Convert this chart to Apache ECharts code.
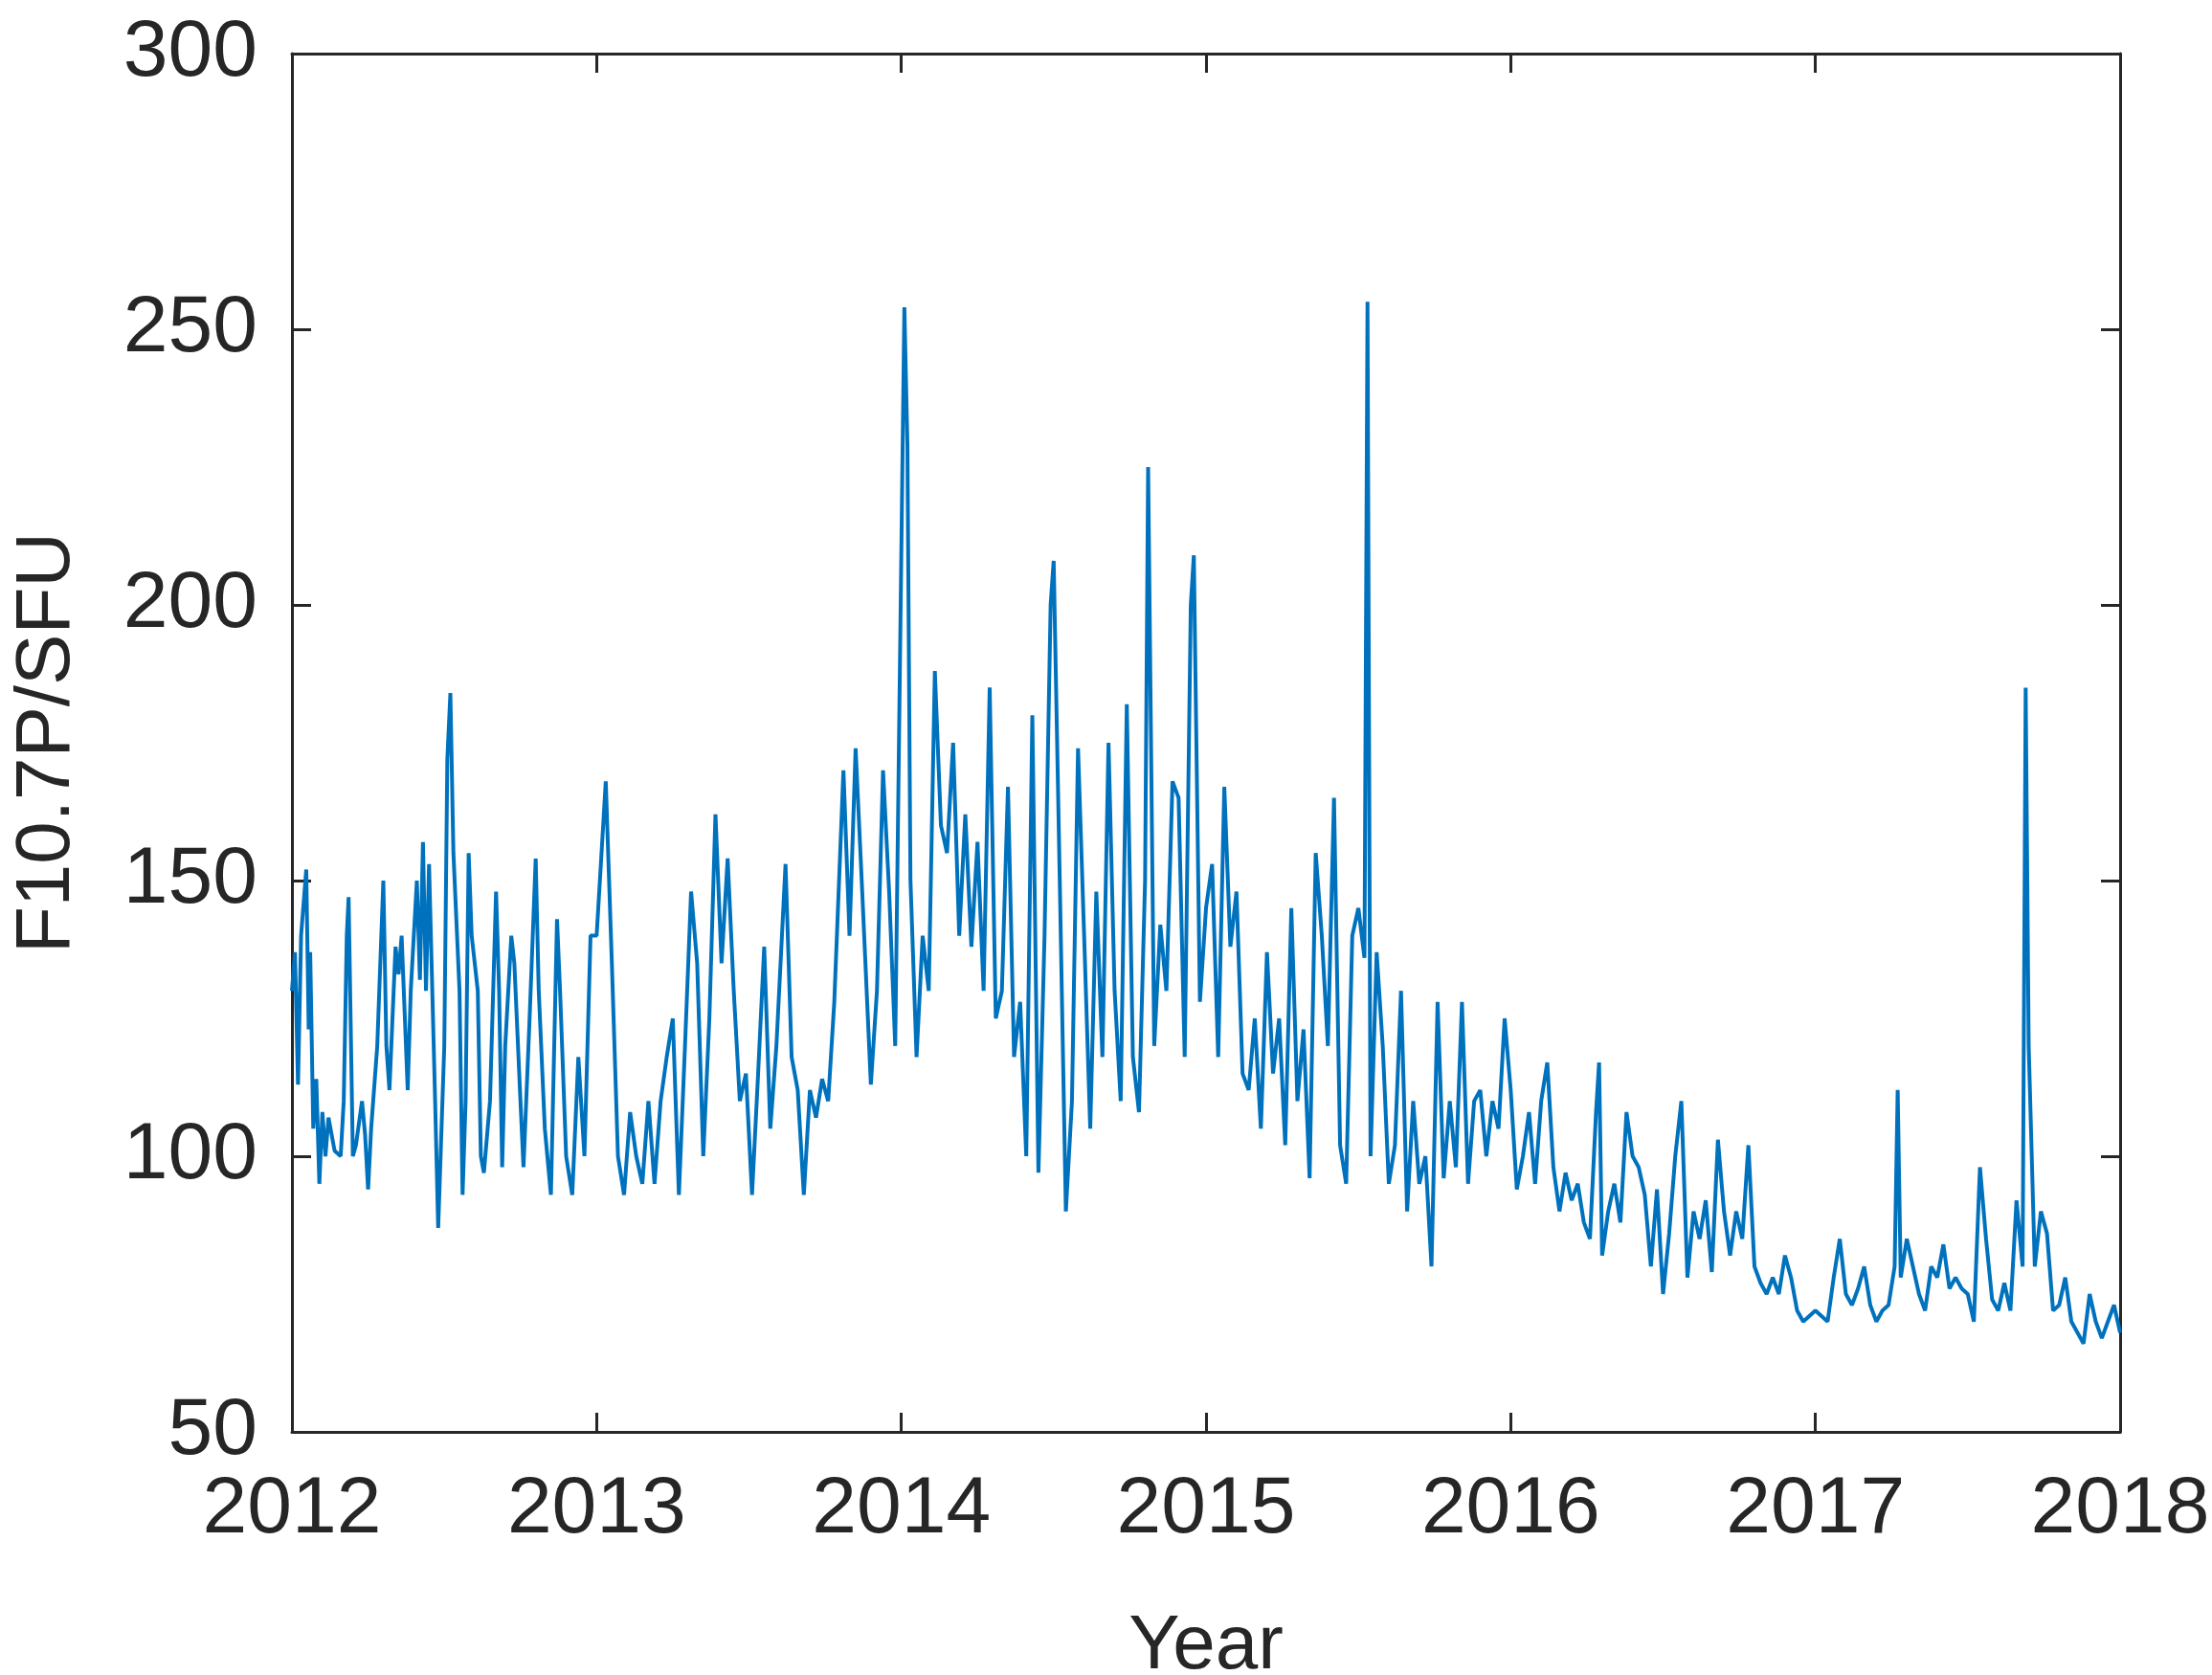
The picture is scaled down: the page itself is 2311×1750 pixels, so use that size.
<!DOCTYPE html>
<html><head><meta charset="utf-8">
<script src="https://cdn.jsdelivr.net/npm/echarts@6/dist/echarts.min.js"></script>
<style>html,body{margin:0;background:#fff}#c{width:2311px;height:1750px}</style>
</head><body><div id="c"></div>
<script>
const years = [
2012.00,2012.01,2012.02,2012.03,2012.047,2012.055,2012.06,2012.07,2012.08,2012.09,2012.10,2012.11,2012.12,2012.14,2012.16,2012.17,2012.18,2012.186,2012.20,2012.21,2012.23,2012.24,2012.25,2012.26,2012.28,2012.30,2012.31,2012.32,2012.34,2012.35,2012.36,2012.38,2012.39,2012.41,2012.42,2012.43,2012.44,2012.45,2012.47,2012.48,2012.50,2012.51,2012.52,2012.53,2012.55,2012.56,2012.57,2012.58,2012.59,2012.61,2012.62,2012.63,2012.65,2012.67,2012.68,2012.69,2012.70,2012.72,2012.73,2012.75,2012.76,2012.78,2012.80,2012.81,2012.83,2012.85,2012.87,2012.88,2012.90,2012.92,2012.94,2012.96,2012.98,
2013.00,2013.03,2013.05,2013.07,2013.09,2013.11,2013.13,2013.15,2013.17,2013.19,2013.21,2013.23,2013.25,2013.27,2013.29,2013.31,2013.33,2013.35,2013.37,2013.39,2013.41,2013.43,2013.45,2013.47,2013.49,2013.51,2013.53,2013.55,2013.57,2013.59,2013.62,2013.64,2013.66,2013.68,2013.70,2013.72,2013.74,2013.76,2013.78,2013.81,2013.83,2013.85,2013.87,2013.90,2013.92,2013.94,2013.96,2013.98,
2014.01,2014.02,2014.03,2014.05,2014.07,2014.09,2014.11,2014.13,2014.15,2014.17,2014.19,2014.21,2014.23,2014.25,2014.27,2014.29,2014.31,2014.33,2014.35,2014.37,2014.39,2014.41,2014.43,2014.45,2014.47,2014.49,2014.50,2014.52,2014.54,2014.56,2014.58,2014.60,2014.62,2014.64,2014.66,2014.68,2014.70,2014.72,2014.74,2014.76,2014.78,2014.80,2014.81,2014.83,2014.85,2014.87,2014.89,2014.91,2014.93,2014.95,2014.96,2014.98,
2015.00,2015.02,2015.04,2015.06,2015.08,2015.10,2015.12,2015.14,2015.16,2015.18,2015.20,2015.22,2015.24,2015.26,2015.28,2015.30,2015.32,2015.34,2015.36,2015.38,2015.40,2015.42,2015.44,2015.46,2015.48,2015.50,2015.52,2015.53,2015.54,2015.56,2015.58,2015.60,2015.62,2015.64,2015.66,2015.68,2015.70,2015.72,2015.74,2015.76,2015.78,2015.80,2015.82,2015.84,2015.86,2015.88,2015.90,2015.92,2015.94,2015.96,2015.98,
2016.00,2016.02,2016.04,2016.06,2016.08,2016.10,2016.12,2016.14,2016.16,2016.18,2016.20,2016.22,2016.24,2016.26,2016.28,2016.29,2016.30,2016.32,2016.34,2016.36,2016.38,2016.40,2016.42,2016.44,2016.46,2016.48,2016.50,2016.52,2016.54,2016.56,2016.58,2016.60,2016.62,2016.64,2016.66,2016.68,2016.70,2016.72,2016.74,2016.76,2016.78,2016.80,2016.82,2016.84,2016.86,2016.88,2016.90,2016.92,2016.94,2016.96,2016.98,
2017.00,2017.02,2017.04,2017.06,2017.08,2017.10,2017.12,2017.14,2017.16,2017.18,2017.20,2017.22,2017.24,2017.26,2017.27,2017.28,2017.30,2017.32,2017.34,2017.36,2017.38,2017.40,2017.42,2017.44,2017.46,2017.48,2017.50,2017.52,2017.54,2017.56,2017.58,2017.60,2017.62,2017.64,2017.66,2017.68,2017.69,2017.70,2017.72,2017.74,2017.76,2017.78,2017.80,2017.82,2017.84,2017.86,2017.88,2017.90,2017.92,2017.94,2017.96,2017.98,2018.00];
const f107 = [
130,137,113,140,152,123,137,105,114,95,108,100,107,101,100,110,140,147,100,102,110,104,94,105,120,150,120,112,138,133,140,112,130,150,132,157,130,153,110,87,120,172,184,155,130,93,110,155,140,130,100,97,110,148,130,98,120,140,135,110,98,125,154,130,105,93,143,130,100,93,118,100,140,
140,168,135,100,93,108,100,95,110,95,110,118,125,93,120,148,135,100,125,162,135,154,130,110,115,93,115,138,105,120,153,118,112,93,112,107,114,110,128,170,140,174,150,113,130,170,148,120,
254,229,150,118,140,130,188,160,155,175,140,162,138,157,130,185,125,130,167,118,128,100,180,97,140,200,208,150,90,110,174,140,105,148,118,175,130,110,182,118,108,150,225,120,142,130,168,165,118,200,209,128,
145,153,118,167,138,148,115,112,125,105,137,115,125,102,145,110,123,96,155,140,120,165,102,95,140,145,136,255,100,137,120,95,102,130,90,110,95,100,80,128,96,110,98,128,95,110,112,100,110,105,125,
112,94,100,108,95,110,117,98,90,97,92,95,88,85,108,117,82,90,95,88,108,100,98,93,80,94,75,86,100,110,78,90,85,92,79,103,90,82,90,85,102,80,77,75,78,75,82,78,72,70,71,
72,71,70,78,85,75,73,76,80,73,70,72,73,80,112,78,85,80,75,72,80,78,84,76,78,76,75,70,98,85,74,72,77,72,92,80,185,120,80,90,86,72,73,78,70,68,66,75,70,67,70,73,68];
const xTicks = [2012,2013,2014,2015,2016,2017,2018];
const yTicks = [50,100,150,200,250,300];
const font = 'Arial, "Liberation Sans", sans-serif';
const c = echarts.init(document.getElementById('c'));
const ax = {color:'#262626', fontSize:84, fontFamily:font};
const line = {show:true, lineStyle:{color:'#262626', width:3}};
const tick = {show:true, inside:true, length:20, lineStyle:{color:'#262626', width:3}};
c.setOption({
  animation:false,
  grid:{left:305, right:96, top:56, bottom:254, containLabel:false, outerBoundsMode:'none'},
  xAxis:[
    {type:'value', min:xTicks[0], max:xTicks[xTicks.length-1], interval:1, axisLine:line, axisTick:tick, splitLine:{show:false},
     axisLabel:{...ax, margin:40, formatter:v=>String(v)}, name:'Year', nameLocation:'middle', nameGap:185,
     nameTextStyle:{color:'#262626', fontSize:80, fontFamily:font}},
    {type:'value', position:'top', min:2012, max:2018, interval:1, axisLine:line, axisTick:tick, axisLabel:{show:false}, splitLine:{show:false}}
  ],
  yAxis:[
    {type:'value', min:yTicks[0], max:yTicks[yTicks.length-1], interval:50, axisLine:line, axisTick:tick, splitLine:{show:false},
     axisLabel:{...ax, margin:36}, name:'F10.7P/SFU', nameLocation:'middle', nameGap:215,
     nameTextStyle:{color:'#262626', fontSize:80, fontFamily:font}},
    {type:'value', position:'right', min:50, max:300, interval:50, axisLine:line, axisTick:tick, axisLabel:{show:false}, splitLine:{show:false}}
  ],
  series:[{type:'line', data:years.map((y,i)=>[y,f107[i]]), showSymbol:false, lineStyle:{color:'#0072BD', width:4}}]
});
</script></body></html>
